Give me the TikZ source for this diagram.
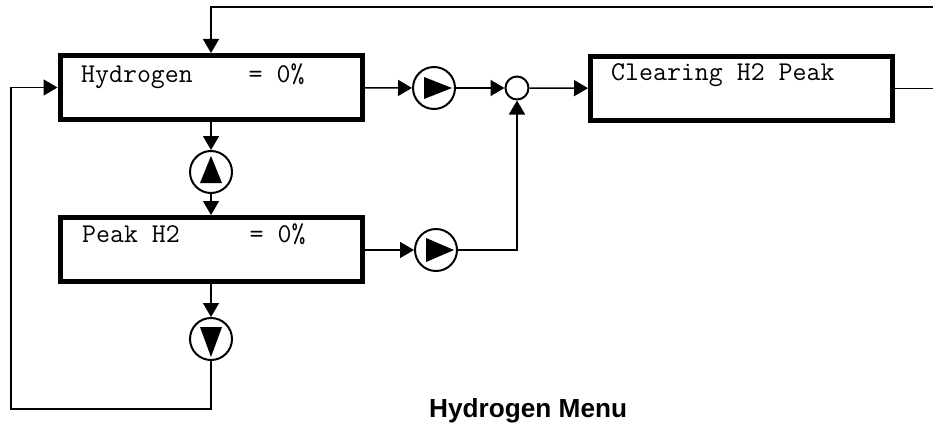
\documentclass[tikz,border=0pt]{standalone}
\usepackage{fontspec}
\setmainfont{Liberation Sans}
\usepackage{tikz}
\usetikzlibrary{arrows.meta, positioning, calc}

\begin{document}
\begin{tikzpicture}[
    x=1pt, y=-1pt,
    screen/.style={rectangle, draw, line width=5pt, minimum width=302pt, minimum height=64pt, inner sep=0pt},
    lcd/.style={anchor=base west, inner sep=0pt, font=\ttfamily\fontsize{27.1}{30}\selectfont},
    key/.style={circle, draw, line width=2pt, minimum size=42pt, inner sep=0pt},
    joint/.style={circle, draw, line width=2pt, minimum size=23pt, inner sep=0pt},
    arrow/.style={-{Triangle[length=14pt, width=16pt]}, line width=1.5pt},
    wire/.style={line width=1.5pt},
]
\useasboundingbox (0,0) rectangle (933,428);

% Screens
\node[screen] (hyd) at (211,87.5) {};
\node[screen] (peak) at (211,249.5) {};
\node[screen] (clr) at (741.5,88.5) {};
\node[lcd] (hydtxt) at (81,82) {Hydrogen\ \ \ \ = 0\%};
\node[lcd] (peaktxt) at (82,242) {Peak H2\ \ \ \ \ = 0\%};
\node[lcd] (clrtxt) at (611,81) {Clearing H2 Peak};

% Keys
\node[key] (up) at (211,172) {};
\node[key] (dn) at (211,339) {};
\node[key] (r1) at (434,88) {};
\node[key] (r2) at (436,250) {};
\node[joint] (jn) at (517,88) {};
\fill ($(up)+(-11,11)$) -- ($(up)+(0,-16)$) -- ($(up)+(11,11)$) -- cycle;
\fill ($(dn)+(-11,-12)$) -- ($(dn)+(0,18)$) -- ($(dn)+(11,-12)$) -- cycle;
\fill ($(r1)+(-10,-11)$) -- ($(r1)+(18,0)$) -- ($(r1)+(-10,11)$) -- cycle;
\fill ($(r2)+(-10,-12)$) -- ($(r2)+(18,0)$) -- ($(r2)+(-10,12)$) -- cycle;

% Edge points
\coordinate (tr) at (933,7);
\coordinate (er) at (933,88.5);
\coordinate (bl) at (11,409);

% Arrows
\draw[arrow] (tr) -| (hyd.north);
\draw[arrow] (hyd) -- (up);
\draw[arrow] (up) -- (peak);
\draw[arrow] (peak) -- (dn);
\draw[arrow] (dn.south) |- (bl) |- (hyd.west);
\draw[arrow] (hyd) -- (r1);
\draw[arrow] (r1) -- (jn);
\draw[arrow] (jn) -- (clr);
\draw[arrow] (peak.east |- r2) -- (r2);
\draw[arrow] (r2) -| (jn);
\draw[wire] (clr.east |- er) -- (er);

% Title
\node[anchor=base west, inner sep=0pt, font=\bfseries\fontsize{26.2}{30}\selectfont] (title) at (429,417) {Hydrogen Menu};

\end{tikzpicture}
\end{document}
